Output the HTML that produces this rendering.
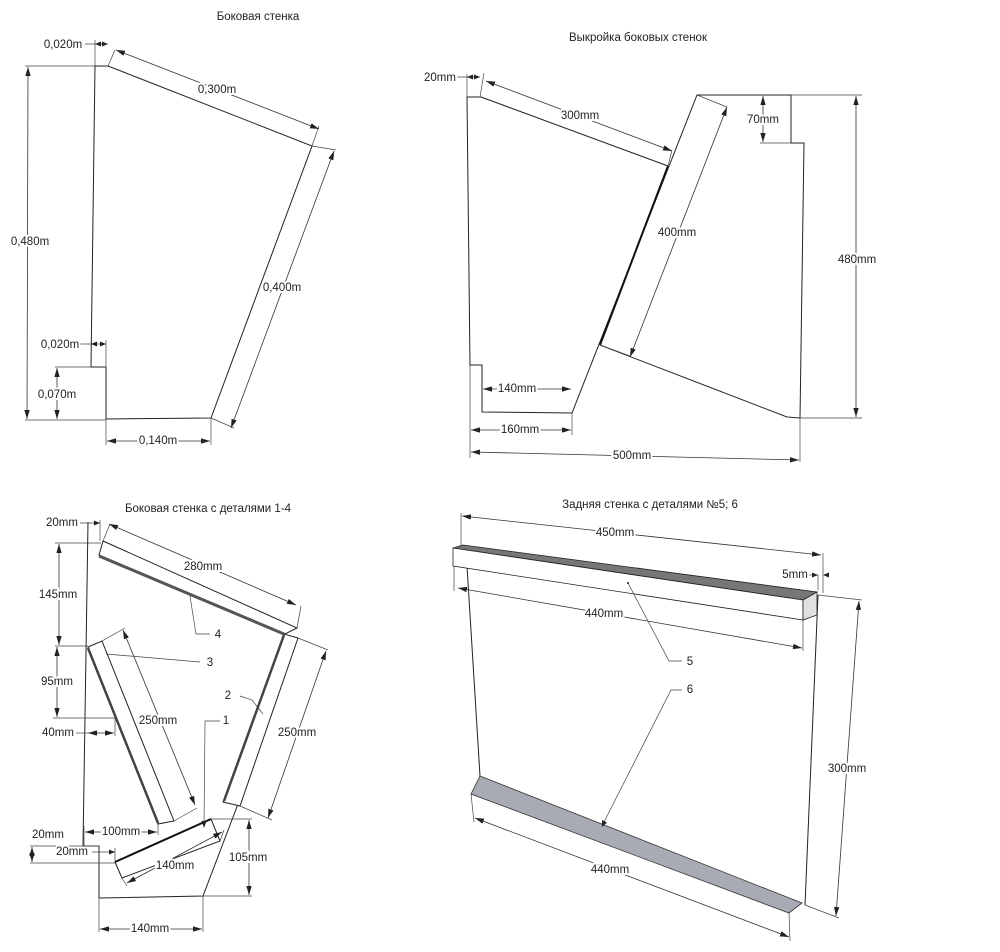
<!DOCTYPE html>
<html><head><meta charset="utf-8"><style>
html,body{margin:0;padding:0;background:#fff}
svg{display:block}
text{font-family:"Liberation Sans","DejaVu Sans",sans-serif;font-size:11.5px;fill:#222;paint-order:stroke;stroke:#fff;stroke-width:4px;text-anchor:middle;dominant-baseline:middle}
.l{stroke:#222;stroke-width:1;fill:none}
.d{stroke:#333;stroke-width:0.8;fill:none;marker-start:url(#a);marker-end:url(#a)}
.e{stroke:#444;stroke-width:0.7;fill:none}
.t{font-size:11.5px}
</style></head><body>
<svg width="1000" height="952" viewBox="0 0 1000 952" xmlns="http://www.w3.org/2000/svg">
<defs><marker id="a" viewBox="0 0 10 6" refX="10" refY="3" markerWidth="9" markerHeight="5.4" orient="auto-start-reverse" markerUnits="userSpaceOnUse"><path d="M0,0 L10,3 L0,6 z" fill="#222"/></marker></defs>

<!-- Q1 -->
<text class="t" x="258" y="17">Боковая стенка</text>
<path class="l" d="M95,66 L108,66 L312,146 L211,418 L106,419 L106,367 L91,367 Z"/>
<path class="e" d="M25,66 H95 M25,420 H106 M95,40 V66 M108,66 L115,50 M312,146 L336,150 M211,418 L234,428 M312,146 L319,126 M106,340 V367 M55,367 H91 M106,420 V445 M211,418 V445 M85,44 H95 M80,344 H91"/>
<line class="d" x1="28" y1="67" x2="27" y2="419"/>
<text x="30" y="242">0,480m</text>
<line class="e" x1="95" y1="44" x2="108" y2="44"/>
<path d="M95,44 l6,-2.5 v5z M108,44 l-6,-2.5 v5z" fill="#222"/>
<text x="63" y="45">0,020m</text>
<line class="d" x1="116" y1="50" x2="319" y2="129"/>
<text x="217" y="90">0,300m</text>
<line class="d" x1="334" y1="151" x2="231" y2="428"/>
<text x="282" y="288">0,400m</text>
<line class="e" x1="91" y1="344" x2="106" y2="344"/>
<path d="M91,344 l6,-2.5 v5z M106,344 l-6,-2.5 v5z" fill="#222"/>
<text x="60" y="345">0,020m</text>
<line class="d" x1="57" y1="368" x2="57" y2="419"/>
<text x="57" y="395">0,070m</text>
<line class="d" x1="107" y1="441" x2="210" y2="441"/>
<text x="158" y="441">0,140m</text>

<!-- Q2 -->
<text class="t" x="638" y="38">Выкройка боковых стенок</text>
<path class="l" d="M481,97 L467,97 L470,365 L482,365 L482,412 L572,413 L697,95 L791,95 L791,143 L804,143 L800,418 L787,417 L600,345"/>
<path class="l" d="M481,97 L668,166" />
<line x1="668" y1="166" x2="600" y2="345" stroke="#111" stroke-width="2"/>
<path class="e" d="M760,143 H791 M791,95 H862 M800,418 H862 M697,95 L727,107 M600,345 L630,356 M467,74 V97 M480,97 L484,73 M668,166 L672,150 M572,413 V435 M470,365 V458 M800,418 V462 M455,77 H467"/>
<line x1="467" y1="77" x2="480" y2="77" class="e"/><path d="M467,77 l6,-2.5 v5z M480,77 l-6,-2.5 v5z" fill="#222"/>
<text x="440" y="78">20mm</text>
<line class="d" x1="486" y1="81" x2="672" y2="151"/>
<text x="580" y="116">300mm</text>
<line class="d" x1="727" y1="107" x2="630" y2="357"/>
<text x="677" y="233">400mm</text>
<line class="d" x1="763" y1="96" x2="763" y2="142"/>
<text x="763" y="120">70mm</text>
<line class="d" x1="856" y1="96" x2="856" y2="417"/>
<text x="857" y="260">480mm</text>
<line class="d" x1="483" y1="389" x2="571" y2="389"/>
<text x="517" y="389">140mm</text>
<line class="d" x1="471" y1="430" x2="571" y2="430"/>
<text x="520" y="430">160mm</text>
<line class="d" x1="471" y1="452" x2="799" y2="460"/>
<text x="632" y="456">500mm</text>

<!-- Q3 -->
<text class="t" x="208" y="509">Боковая стенка с деталями 1-4</text>
<path class="l" d="M88,522 L83,846 L99,846 L99,898 L203,896 L238,804"/>
<polygon points="103,541 99,555 285,634 297,628" fill="#fff" stroke="#222" stroke-width="1"/>
<line x1="99" y1="556" x2="284" y2="634" stroke="#555" stroke-width="3"/>
<polygon points="284,634 298,638 240,806 223,802" fill="#fff" stroke="#222" stroke-width="1"/>
<line x1="284" y1="635" x2="224" y2="801" stroke="#444" stroke-width="2.5"/>
<polygon points="88,647 102,641 174,821 158,824" fill="#fff" stroke="#222" stroke-width="1"/>
<line x1="88" y1="648" x2="158" y2="823" stroke="#444" stroke-width="2.5"/>
<polygon points="115,862 211,819 220,841 122,878" fill="#fff" stroke="#222" stroke-width="1"/>
<line x1="115" y1="862" x2="211" y2="819" stroke="#111" stroke-width="2"/>
<path class="e" d="M55,543 H101 M55,646 H88 M53,718 H115 M115,718 V736 M100,520 V541 M103,541 L110,524 M297,628 L301,606 M298,638 L328,650 M240,806 L272,820 M102,641 L125,628 M174,821 L197,808 M84,826 V846 M158,824 V835 M211,819 H252 M203,896 H252 M30,846 H99 M30,863 H115 M115,848 V862 M99,898 V932 M203,896 V932 M122,878 L127,886 M220,841 L224,830"/>
<line class="e" x1="80" y1="523" x2="100" y2="523"/><path d="M100,523 l-6,-2.5 v5z" fill="#222"/>
<text x="62" y="523">20mm</text>
<line class="d" x1="109" y1="524" x2="296" y2="605"/>
<text x="203" y="567">280mm</text>
<line class="d" x1="59" y1="544" x2="59" y2="645"/>
<text x="58" y="595">145mm</text>
<line class="d" x1="57" y1="647" x2="57" y2="717"/>
<text x="57" y="682">95mm</text>
<line class="d" x1="88" y1="733" x2="114" y2="733"/><line class="e" x1="76" y1="733" x2="88" y2="733"/>
<text x="58" y="733">40mm</text>
<line class="d" x1="123" y1="630" x2="195" y2="805"/>
<text x="158" y="721">250mm</text>
<line class="d" x1="326" y1="651" x2="268" y2="818"/>
<text x="297" y="733">250mm</text>
<line class="d" x1="85" y1="832" x2="157" y2="832"/>
<text x="121" y="832">100mm</text>
<line class="d" x1="32" y1="847" x2="32" y2="862"/>
<text x="48" y="835">20mm</text>
<line class="e" x1="92" y1="852" x2="115" y2="852"/><path d="M115,852 l-6,-2.5 v5z" fill="#222"/>
<text x="72" y="852">20mm</text>
<line class="d" x1="127" y1="883" x2="222" y2="832"/>
<text x="175" y="866">140mm</text>
<line class="d" x1="249" y1="820" x2="249" y2="895"/>
<text x="248" y="858">105mm</text>
<line class="d" x1="100" y1="929" x2="202" y2="929"/>
<text x="150" y="929">140mm</text>
<path class="e" d="M190,596 L196,634 H210 M106,654 L200,662 M240,696 L252,700 L263,714 M220,721 H205 L204,826"/>
<path d="M204,828 l-2.5,-7 h5z" fill="#222"/>
<text x="218" y="635">4</text><text x="210" y="663">3</text><text x="228" y="696">2</text><text x="226" y="721">1</text>

<!-- Q4 -->
<text class="t" x="650" y="505">Задняя стенка с деталями №5; 6</text>
<path class="l" d="M467,566 L480,776 M818,595 L805,905"/>
<polygon points="453,548 463,545 817,592 803,600" fill="#777" stroke="#222" stroke-width="0.8"/>
<polygon points="453,548 803,600 803,620 453,566" fill="#fff" stroke="#222" stroke-width="0.8"/>
<polygon points="803,600 817,592 817,615 803,620" fill="#e0e0e0" stroke="#222" stroke-width="0.8"/>
<polygon points="480,776 802,903 789,913 471,794" fill="#a9abb4" stroke="#333" stroke-width="0.8"/>
<path class="e" d="M461,513 V547 M823,553 V593 M454,566 V591 M803,620 V651 M818,595 L862,600 M805,905 L839,918 M471,794 L474,822 M789,913 L790,941 M818,575 V590"/>
<line class="d" x1="462" y1="516" x2="821" y2="555"/>
<text x="615" y="533">450mm</text>
<line class="e" x1="808" y1="575" x2="818" y2="575"/><path d="M818,575 l-6,-2.5 v5z M823,575 l6,-2.5 v5z" fill="#222"/>
<text x="795" y="575">5mm</text>
<line class="d" x1="458" y1="588" x2="802" y2="648"/>
<text x="604" y="614">440mm</text>
<line class="d" x1="859" y1="601" x2="836" y2="916"/>
<text x="847" y="769">300mm</text>
<line class="d" x1="475" y1="818" x2="789" y2="937"/>
<text x="610" y="870">440mm</text>
<path class="e" d="M628,583 L669,661 H682 M682,690 H671 L603,824"/>
<path d="M602,827 l0,-7 l5,2.5z" fill="#222"/>
<circle cx="628" cy="583" r="1" fill="#222"/>
<text x="690" y="662">5</text><text x="690" y="690">6</text>
</svg>
</body></html>
